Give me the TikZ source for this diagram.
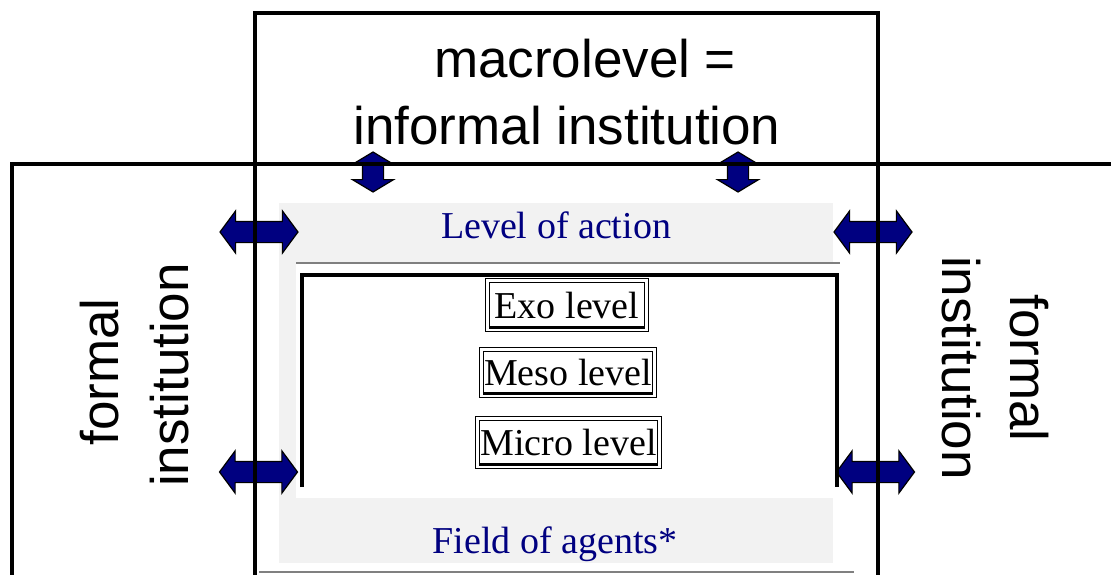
\documentclass[tikz,border=0pt]{standalone}
\usepackage{fontspec}
\setmainfont{Liberation Serif}
\newfontfamily\arialfont{Liberation Sans}
\usetikzlibrary{shapes.arrows}
\definecolor{navyblue}{RGB}{0,0,128}
\definecolor{bandgray}{RGB}{242,242,242}
\definecolor{rulegray}{RGB}{128,128,128}
\begin{document}
\begin{tikzpicture}[x=1pt,y=-1pt,
  frame/.style={line width=3.6pt},
  bracket/.style={line width=3.6pt},
  rule/.style={draw=rulegray, line width=1.5pt},
  harrow/.style={double arrow, fill=navyblue, draw=black, line width=1.2pt, inner sep=0pt,
    text width=0pt, text height=10pt, text depth=10pt,
    minimum height=78pt, minimum width=41pt, double arrow head extend=10.5pt, double arrow tip angle=107},
  varrow/.style={double arrow, fill=navyblue, draw=black, line width=1.2pt, inner sep=0pt,
    text width=20pt, text height=0pt, text depth=0pt,
    shape border rotate=90, minimum height=40pt, minimum width=40pt,
    double arrow head extend=10pt, double arrow tip angle=118},
  bigtext/.style={font=\arialfont\fontsize{53}{64}\selectfont, inner sep=0pt},
  bluetext/.style={font=\fontsize{38}{44}\selectfont, text=navyblue, inner sep=0pt},
  levelbox/.style={draw, double, double distance=2.5pt, line width=1.4pt,
    font=\fontsize{38}{44}\selectfont, inner sep=0pt, text height=26pt, text depth=0pt},
  boxfoot/.style={line width=2.8pt}
]
\useasboundingbox (0,0) rectangle (1111,575);
% grey field
\fill[bandgray] (279,203) rectangle (833,563);
\fill[white] (296,263) rectangle (838,498);
\draw[rule] (296,263) -- (840,263);
\draw[rule] (259,572) -- (854,572);
% arrows
\node[varrow] (va1) at (373,172) {};
\node[varrow] (va2) at (738,172) {};
\node[harrow] (ha1) at (259,232) {};
\node[harrow] (ha2) at (873,232) {};
\node[harrow] (ha3) at (258.5,472) {};
\node[harrow] (ha4) at (875.5,472) {};
% frames
\draw[frame] (255,575) -- (255,13) -- (878,13) -- (878,575);
\draw[frame] (12,575) -- (12,164) -- (1111,164);
\draw[bracket] (302,487) -- (302,275) -- (837,275) -- (837,487);
% texts
\node[bigtext, anchor=base] (macro) at (585,78) {macrolevel =};
\node[bigtext, anchor=base] (informal) at (567,145) {informal institution};
\node[bigtext, anchor=base, rotate=90] (lformal) at (118,372) {formal};
\node[bigtext, anchor=base, rotate=90] (linst) at (188,375) {institution};
\node[bigtext, anchor=base, rotate=-90] (rinst) at (942,368) {institution};
\node[bigtext, anchor=base, rotate=-90] (rformal) at (1010,368) {formal};
\node[bluetext, anchor=base] (loa) at (556,238) {Level of action};
\node[bluetext, anchor=base] (foa) at (555,553) {Field of agents*};
% level boxes
\node[levelbox, minimum width=159pt, minimum height=49pt] (exo) at (567,305) {Exo level};
\node[levelbox, minimum width=173pt, minimum height=46pt] (meso) at (568,372.5) {Meso level};
\node[levelbox, minimum width=182pt, minimum height=48pt] (micro) at (568.5,442.5) {Micro level};
\foreach \b in {exo,meso,micro}{
  \draw[boxfoot] ([xshift=2pt,yshift=2.5pt]\b.south west) -- ([xshift=-2pt,yshift=2.5pt]\b.south east);
}
\end{tikzpicture}
\end{document}
